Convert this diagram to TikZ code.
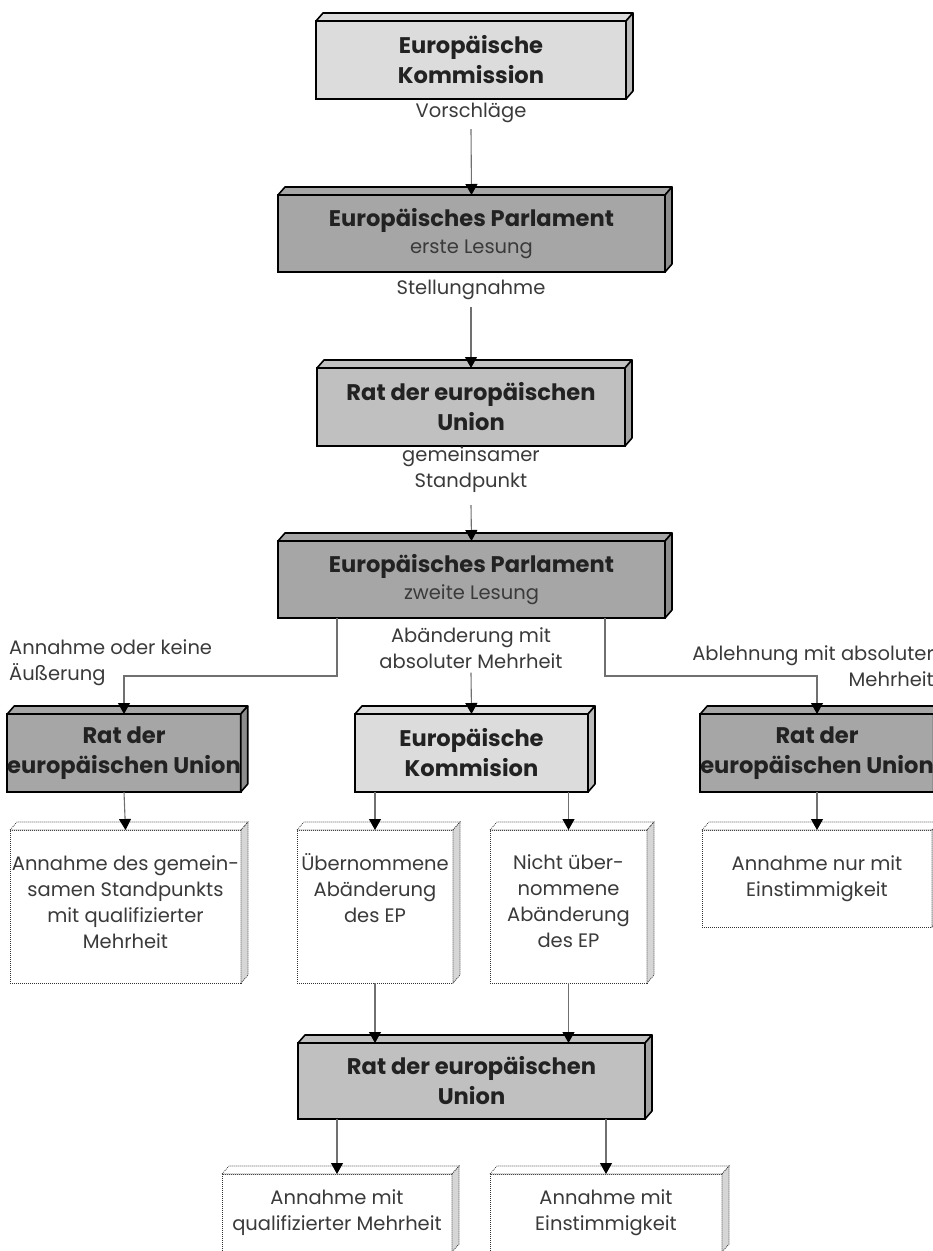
\documentclass[tikz,border=0pt]{standalone}
\usepackage{fontspec}
\setmainfont{Poppins}
\usetikzlibrary{arrows.meta,calc}
\definecolor{lgray}{HTML}{DCDCDC}
\definecolor{mgray}{HTML}{C0C0C0}
\definecolor{dgray}{HTML}{A6A6A6}
\definecolor{lncol}{HTML}{707070}
\definecolor{txtcol}{HTML}{222222}
\definecolor{stxtcol}{HTML}{3A3A3A}
\definecolor{sidegray}{HTML}{D6D6D6}
\newcommand{\bigfont}{\bfseries\fontsize{22.6}{30}\selectfont}
\newcommand{\smallfont}{\fontsize{19.5}{26}\selectfont}
\newcommand{\solidfaces}[2]{%
  \filldraw[fill=#2, draw=black, line width=1.6pt, line join=round]
    (#1.north west) -- ++(7,8) -- ($(#1.north east)+(7,8)$) -- (#1.north east) -- cycle;
  \filldraw[fill=#2!85!black, draw=black, line width=1.6pt, line join=round]
    (#1.north east) -- ++(7,8) -- ($(#1.south east)+(7,8)$) -- (#1.south east) -- cycle;
}
\newcommand{\dottedfaces}[1]{%
  \filldraw[fill=white, draw=black!80, line width=0.7pt, dash pattern=on 1pt off 1pt]
    (#1.north west) -- ++(7,8) -- ($(#1.north east)+(7,8)$) -- (#1.north east) -- cycle;
  \filldraw[fill=sidegray, draw=black!80, line width=0.7pt, dash pattern=on 1pt off 1pt]
    (#1.north east) -- ++(7,8) -- ($(#1.south east)+(7,8)$) -- (#1.south east) -- cycle;
}
\tikzset{
  sbox/.style={draw=black, line width=1.6pt, outer sep=0pt, inner sep=0pt,
    align=center, text=txtcol, font=\bigfont},
  dbox/.style={draw=black!80, line width=0.7pt, dash pattern=on 1pt off 1pt,
    fill=white, outer sep=0pt, inner sep=0pt, align=center, text=stxtcol, font=\smallfont},
  lbl/.style={inner sep=0pt, text=stxtcol, font=\smallfont},
  conn/.style={draw=lncol, line width=1.1pt, -{Triangle[width=12pt,length=11pt,color=black]}},
}
\begin{document}
\begin{tikzpicture}[x=1pt,y=1pt]
\useasboundingbox (0,0) rectangle (933,-1251);

% column boxes
\node[sbox, fill=lgray, minimum width=310, minimum height=78] (kom1) at (471,-60)
  {Europäische\\Kommission};
\solidfaces{kom1}{lgray}
\node[lbl] (vor) at (471,-113) {Vorschläge};

\node[sbox, fill=dgray, minimum width=387, minimum height=77] (ep1) at (471.5,-233.5)
  {Europäisches Parlament\\[-3pt]{\smallfont\mdseries\color{stxtcol}erste Lesung}};
\solidfaces{ep1}{dgray}
\node[lbl] (stell) at (471,-290) {Stellungnahme};

\node[sbox, fill=mgray, minimum width=308, minimum height=78] (rat1) at (471,-407)
  {Rat der europäischen\\Union};
\solidfaces{rat1}{mgray}
\node[lbl, align=center] (gem) at (471,-470) {gemeinsamer\\Standpunkt};

\node[sbox, fill=dgray, minimum width=387, minimum height=77] (ep2) at (471.5,-579.5)
  {Europäisches Parlament\\[-3pt]{\smallfont\mdseries\color{stxtcol}zweite Lesung}};
\solidfaces{ep2}{dgray}

% branch labels
\node[lbl, anchor=west, align=left] (lblL) at (9,-663) {Annahme oder keine\\Äußerung};
\node[lbl, align=center] (abae) at (471,-648) {Abänderung mit\\absoluter Mehrheit};
\node[lbl, anchor=east, align=right] (lblR) at (934,-666) {Ablehnung mit absoluter\\Mehrheit};

% second row
\node[sbox, fill=dgray, minimum width=230, minimum height=78] (ratL) at (124,-753)
  {Rat der\\europäischen Union};
\solidfaces{ratL}{dgray}
\node[sbox, fill=lgray, minimum width=233, minimum height=78] (komm) at (471.5,-753)
  {Europäische\\Kommision};
\solidfaces{komm}{lgray}
\node[sbox, fill=dgray, minimum width=230, minimum height=78] (ratR) at (817,-753)
  {Rat der\\europäischen Union};
\solidfaces{ratR}{dgray}

% third row (dotted)
\node[dbox, minimum width=231, minimum height=153] (annL) at (125.5,-906.5) {};
\dottedfaces{annL}
\node[lbl, align=center] (annLt) at (125.5,-902)
  {Annahme des gemein-\\samen Standpunkts\\mit qualifizierter\\Mehrheit};
\node[dbox, minimum width=156, minimum height=153] (uebern) at (375,-906.5) {};
\dottedfaces{uebern}
\node[lbl, align=center] (uebernt) at (375,-888)
  {Übernommene\\Abänderung\\des EP};
\node[dbox, minimum width=157, minimum height=153] (nicht) at (568.5,-906.5) {};
\dottedfaces{nicht}
\node[lbl, align=center] (nichtt) at (568.5,-901)
  {Nicht über-\\nommene\\Abänderung\\des EP};
\node[dbox, minimum width=230, minimum height=97] (annR) at (817,-878.5)
  {Annahme nur mit\\Einstimmigkeit};
\dottedfaces{annR}

% bottom council
\node[sbox, fill=mgray, minimum width=347, minimum height=76] (rat3) at (471.5,-1081)
  {Rat der europäischen\\Union};
\solidfaces{rat3}{mgray}

% final boxes
\node[dbox, minimum width=230, minimum height=78] (fin1) at (337,-1213)
  {Annahme mit\\qualifizierter Mehrheit};
\dottedfaces{fin1}
\node[dbox, minimum width=232, minimum height=78] (fin2) at (606,-1213)
  {Annahme mit\\Einstimmigkeit};
\dottedfaces{fin2}

% connectors
\draw[conn] ([yshift=-6pt]vor.south) -- (ep1.north);
\draw[conn] ([yshift=-7pt]stell.south) -- (rat1.north);
\draw[conn] ([yshift=-12pt]gem.south) -- (ep2.north);
\draw[conn] ([xshift=-134.5pt]ep2.south) -- ++(0,-58) -| (ratL.north);
\draw[conn] ([xshift=133.5pt]ep2.south) -- ++(0,-58) -| (ratR.north);
\draw[conn] ([yshift=-4pt]abae.south) -- (komm.north);
\draw[conn] (ratL.south) -- (annL.north);
\draw[conn] (uebern.north |- komm.south) -- (uebern.north);
\draw[conn] (nicht.north |- komm.south) -- (nicht.north);
\draw[conn] (ratR.south) -- (annR.north);
\draw[conn] (uebern.south) -- (uebern.south |- rat3.north);
\draw[conn] (nicht.south) -- (nicht.south |- rat3.north);
\draw[conn] (fin1.north |- rat3.south) -- (fin1.north);
\draw[conn] (fin2.north |- rat3.south) -- (fin2.north);
\end{tikzpicture}
\end{document}
